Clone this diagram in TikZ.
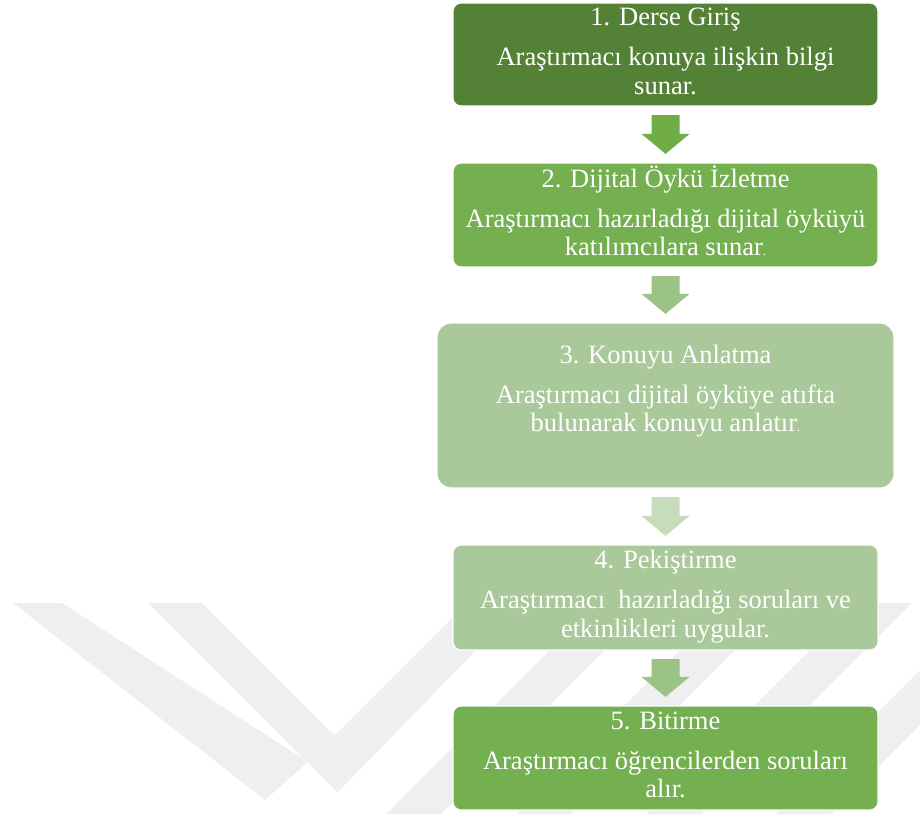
\documentclass[tikz,border=0pt]{standalone}
\usepackage{fontspec}
\setmainfont{Liberation Serif}
\newfontfamily\tnr{Liberation Serif}
\usetikzlibrary{calc}
\definecolor{gDark}{HTML}{538135}
\definecolor{gMid}{HTML}{74AF50}
\definecolor{gLight}{HTML}{A9C99A}
\definecolor{arMid}{HTML}{70AD47}
\definecolor{arSoft}{HTML}{9AC385}
\definecolor{arPale}{HTML}{C7DCBB}
\definecolor{wm}{HTML}{EFEFEF}
\tikzset{
  stage/.style={rounded corners=8pt, draw=white, line width=1.2pt, text=white,
    align=center, font=\tnr\fontsize{26.5}{28.5}\selectfont, inner sep=0pt,
    minimum width=425pt, minimum height=104pt},
  wmark/.style={fill=wm},
}
\newcommand{\smalldot}{{\fontsize{13}{13}\selectfont.}}
\newcommand{\blockarrow}[3]{%
  \fill[#3] let \p1=(#1.south), \p2=(#2.north) in
    (\x1-14pt,\y1-8.5pt) -- (\x1+14pt,\y1-8.5pt) -- (\x1+14pt,\y2+28.5pt)
    -- (\x1+24pt,\y2+28.5pt) -- (\x1,\y2+8.5pt) -- (\x1-24pt,\y2+28.5pt)
    -- (\x1-14pt,\y2+28.5pt) -- cycle;}
\begin{document}
\begin{tikzpicture}[x=1pt,y=-1pt]
\useasboundingbox (0,0) rectangle (920,814);
% watermark
\begin{scope}
  \clip (0,0) rectangle (920,814);
  \fill[wmark] (13,603) -- (62,603) -- (308,762) -- (265,800) -- cycle;
  \fill[wmark] (148,603) -- (202,603) -- (334.5,735.5) -- (467,603) -- (522,603) -- (337.5,792.5) -- cycle;
  \fill[wmark] (597,603) -- (652,603) -- (441,814) -- (386,814) -- cycle;
  \fill[wmark] (727,603) -- (782,603) -- (571,814) -- (516,814) -- cycle;
  \fill[wmark] (857,603) -- (912,603) -- (701,814) -- (646,814) -- cycle;
  \fill[wmark] (987,603) -- (1042,603) -- (831,814) -- (776,814) -- cycle;
\end{scope}
% stages
\node[stage, fill=gDark, minimum height=103pt] (b1) at (665.5,54.5)
  {\strut 1. Derse Giriş\\[11.5pt]Araştırmacı konuya ilişkin bilgi\\sunar.\strut};
\node[stage, fill=gMid] (b2) at (665.5,215)
  {\strut 2. Dijital Öykü İzletme\\[11.5pt]Araştırmacı hazırladığı dijital öyküyü\\katılımcılara sunar\smalldot\strut};
\node[stage, fill=gLight, rounded corners=14pt, minimum width=457pt, minimum height=165pt] (b3) at (665.5,405.5)
  {\strut 3. Konuyu Anlatma\\[11.5pt]Araştırmacı dijital öyküye atıfta\\bulunarak konuyu anlatır\smalldot\rule[-36pt]{0pt}{36pt}};
\node[stage, fill=gLight, minimum height=105pt] (b4) at (665.5,597.5)
  {\strut 4. Pekiştirme\\[11.5pt]Araştırmacı\ \ hazırladığı soruları ve\\etkinlikleri uygular.\strut};
\node[stage, fill=gMid] (b5) at (665.5,758)
  {\strut 5. Bitirme\\[11.5pt]Araştırmacı öğrencilerden soruları\\alır.\strut};
% arrows
\blockarrow{b1}{b2}{arMid}
\blockarrow{b2}{b3}{arSoft}
\blockarrow{b3}{b4}{arPale}
\blockarrow{b4}{b5}{arSoft}
\end{tikzpicture}
\end{document}
